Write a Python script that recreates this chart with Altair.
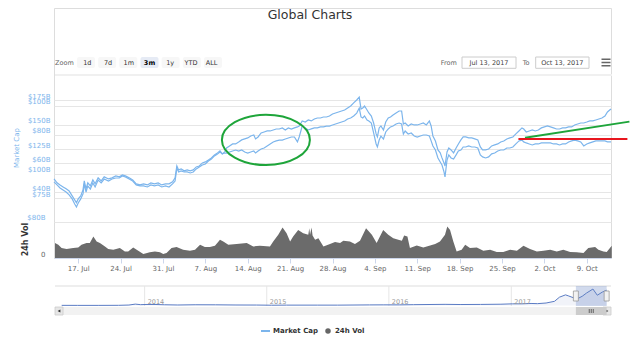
import altair as alt
import pandas as pd

# ---------------- data ----------------
LINE_T = [
    "2017-07-13T00:00", "2017-07-13T12:00", "2017-07-14T00:00", "2017-07-14T12:00", "2017-07-15T00:00", "2017-07-15T12:00",
    "2017-07-16T00:00", "2017-07-16T10:00", "2017-07-16T17:00", "2017-07-17T00:00", "2017-07-17T10:00", "2017-07-17T19:00",
    "2017-07-18T00:00", "2017-07-18T07:00", "2017-07-18T14:00", "2017-07-19T00:00", "2017-07-19T10:00", "2017-07-19T19:00",
    "2017-07-20T07:00", "2017-07-20T19:00", "2017-07-21T07:00", "2017-07-22T00:00", "2017-07-22T14:00", "2017-07-23T05:00",
    "2017-07-23T19:00", "2017-07-24T07:00", "2017-07-24T19:00", "2017-07-25T10:00", "2017-07-26T00:00", "2017-07-26T14:00",
    "2017-07-27T05:00", "2017-07-27T19:00", "2017-07-28T10:00", "2017-07-29T00:00", "2017-07-29T14:00", "2017-07-30T05:00",
    "2017-07-30T19:00", "2017-07-31T10:00", "2017-08-01T00:00", "2017-08-01T14:00", "2017-08-02T00:00", "2017-08-02T07:00",
    "2017-08-02T14:00", "2017-08-03T00:00", "2017-08-03T12:00", "2017-08-04T00:00", "2017-08-04T12:00", "2017-08-05T00:00",
    "2017-08-05T12:00", "2017-08-06T00:00", "2017-08-06T12:00", "2017-08-07T00:00", "2017-08-07T12:00", "2017-08-08T00:00",
    "2017-08-08T12:00", "2017-08-09T00:00", "2017-08-09T10:00", "2017-08-09T19:00", "2017-08-10T05:00", "2017-08-10T12:00",
    "2017-08-11T00:00", "2017-08-11T12:00", "2017-08-12T00:00", "2017-08-12T12:00", "2017-08-13T00:00", "2017-08-13T12:00",
    "2017-08-14T00:00", "2017-08-14T12:00", "2017-08-15T00:00", "2017-08-15T07:00", "2017-08-15T17:00", "2017-08-16T05:00",
    "2017-08-16T17:00", "2017-08-17T05:00", "2017-08-17T17:00", "2017-08-18T05:00", "2017-08-18T17:00", "2017-08-19T05:00",
    "2017-08-19T17:00", "2017-08-20T05:00", "2017-08-20T17:00", "2017-08-21T05:00", "2017-08-21T17:00", "2017-08-22T05:00",
    "2017-08-22T12:00", "2017-08-23T00:00", "2017-08-23T12:00", "2017-08-24T00:00", "2017-08-24T12:00", "2017-08-25T00:00",
    "2017-08-25T12:00", "2017-08-26T00:00", "2017-08-26T12:00", "2017-08-27T00:00", "2017-08-27T12:00", "2017-08-28T00:00",
    "2017-08-28T12:00", "2017-08-29T00:00", "2017-08-29T12:00", "2017-08-30T00:00", "2017-08-30T12:00", "2017-08-31T00:00",
    "2017-08-31T12:00", "2017-09-01T00:00", "2017-09-01T10:00", "2017-09-01T17:00", "2017-09-02T00:00", "2017-09-02T07:00",
    "2017-09-02T17:00", "2017-09-03T00:00", "2017-09-03T10:00", "2017-09-03T19:00", "2017-09-04T05:00", "2017-09-04T10:00",
    "2017-09-04T17:00", "2017-09-05T00:00", "2017-09-05T10:00", "2017-09-05T19:00", "2017-09-06T05:00", "2017-09-06T14:00",
    "2017-09-07T00:00", "2017-09-07T12:00", "2017-09-08T00:00", "2017-09-08T10:00", "2017-09-08T17:00", "2017-09-09T00:00",
    "2017-09-09T12:00", "2017-09-10T00:00", "2017-09-10T12:00", "2017-09-11T00:00", "2017-09-11T12:00", "2017-09-12T00:00",
    "2017-09-12T12:00", "2017-09-13T00:00", "2017-09-13T07:00", "2017-09-13T14:00", "2017-09-14T00:00", "2017-09-14T10:00",
    "2017-09-14T19:00", "2017-09-15T02:00", "2017-09-15T10:00", "2017-09-15T14:00", "2017-09-15T22:00", "2017-09-16T05:00",
    "2017-09-16T14:00", "2017-09-17T00:00", "2017-09-17T10:00", "2017-09-17T19:00", "2017-09-18T05:00", "2017-09-18T14:00",
    "2017-09-19T00:00", "2017-09-19T12:00", "2017-09-20T00:00", "2017-09-20T12:00", "2017-09-21T00:00", "2017-09-21T10:00",
    "2017-09-21T19:00", "2017-09-22T07:00", "2017-09-22T19:00", "2017-09-23T07:00", "2017-09-23T19:00", "2017-09-24T07:00",
    "2017-09-24T19:00", "2017-09-25T07:00", "2017-09-25T19:00", "2017-09-26T07:00", "2017-09-26T19:00", "2017-09-27T07:00",
    "2017-09-27T19:00", "2017-09-28T07:00", "2017-09-28T14:00", "2017-09-29T00:00", "2017-09-29T12:00", "2017-09-30T00:00",
    "2017-09-30T12:00", "2017-10-01T00:00", "2017-10-01T12:00", "2017-10-02T00:00", "2017-10-02T12:00", "2017-10-03T00:00",
    "2017-10-03T12:00", "2017-10-04T00:00", "2017-10-04T12:00", "2017-10-05T00:00", "2017-10-05T12:00", "2017-10-06T00:00",
    "2017-10-06T12:00", "2017-10-07T00:00", "2017-10-07T12:00", "2017-10-08T00:00", "2017-10-08T12:00", "2017-10-09T00:00",
    "2017-10-09T12:00", "2017-10-10T00:00", "2017-10-10T12:00", "2017-10-11T00:00", "2017-10-11T12:00", "2017-10-12T00:00",
    "2017-10-12T10:00", "2017-10-12T19:00", "2017-10-13T00:00",
]
# total market cap, $B (left axis A)
MCAP_TOTAL = [
    94.7, 90.7, 88.6, 86.6, 84.6, 82.5,
    77.5, 73.4, 70.4, 74.4, 77.5, 83.6,
    92.7, 84.6, 90.7, 87.6, 93.7, 89.7,
    95.8, 92.7, 96.8, 94.7, 95.8, 97.8,
    96.8, 98.8, 97.8, 95.8, 93.7, 89.7,
    88.6, 89.7, 88.6, 90.7, 89.7, 90.7,
    88.6, 89.7, 89.7, 91.7, 95.8, 107.9,
    103.9, 104.9, 102.9, 103.9, 102.9, 103.9,
    106.9, 107.9, 111.0, 112.0, 114.0, 116.1,
    119.1, 121.2, 123.2, 120.1, 122.2, 126.2,
    128.3, 130.3, 130.3, 132.3, 134.4, 135.4,
    136.4, 138.4, 139.4, 135.4, 137.4, 141.5,
    142.5, 143.5, 143.5, 144.5, 145.5, 145.5,
    146.6, 144.5, 146.6, 145.5, 146.6, 147.6,
    148.6, 153.7, 152.6, 154.7, 153.7, 155.7,
    156.7, 156.7, 157.7, 157.7, 158.7, 160.8,
    161.8, 162.8, 163.8, 164.8, 166.9, 168.9,
    172.0, 175.0, 178.0, 165.9, 166.9, 168.9,
    164.8, 161.8, 158.7, 151.6, 140.5, 137.4,
    146.6, 148.6, 144.5, 152.6, 156.7, 157.7,
    159.8, 161.8, 163.8, 163.8, 150.6, 151.6,
    148.6, 150.6, 149.6, 149.6, 150.6, 151.6,
    149.6, 153.7, 148.6, 138.4, 133.3, 124.2,
    121.2, 116.1, 111.0, 107.9, 122.2, 126.2,
    124.2, 121.2, 126.2, 130.3, 134.4, 137.4,
    137.4, 136.4, 136.4, 135.4, 134.4, 127.2,
    124.2, 124.2, 125.2, 128.3, 129.3, 130.3,
    132.3, 133.3, 135.4, 136.4, 137.4, 140.5,
    143.5, 146.6, 145.5, 142.5, 143.5, 144.5,
    143.5, 144.5, 146.6, 147.6, 148.6, 147.6,
    146.6, 145.5, 145.5, 146.6, 146.6, 147.6,
    147.6, 149.6, 150.6, 151.6, 151.6, 152.6,
    153.7, 153.7, 154.7, 155.7, 156.7, 158.7,
    162.8, 164.8, 165.9,
]
# second market-cap series, $B (left axis B)
MCAP_ALT = [
    47.2, 45.1, 43.0, 41.6, 40.2, 38.2,
    35.4, 31.9, 29.8, 32.6, 35.4, 38.9,
    45.8, 40.2, 44.4, 42.3, 46.5, 43.7,
    48.5, 46.5, 49.2, 47.8, 49.2, 49.9,
    49.9, 51.3, 50.6, 49.2, 47.8, 45.1,
    44.4, 44.4, 43.7, 45.1, 44.4, 45.1,
    43.7, 44.4, 43.7, 45.8, 47.8, 56.9,
    54.1, 54.8, 54.1, 54.1, 53.4, 54.1,
    56.2, 57.5, 58.9, 59.6, 61.7, 63.1,
    65.2, 66.6, 67.9, 66.6, 67.2, 67.2,
    67.9, 68.6, 69.3, 68.6, 69.3, 67.9,
    67.2, 67.9, 68.6, 67.2, 68.6, 70.0,
    70.7, 72.1, 73.5, 74.9, 75.6, 76.2,
    76.2, 76.9, 77.6, 78.3, 78.3, 74.9,
    78.3, 85.9, 84.6, 83.2, 83.9, 84.6,
    84.6, 85.3, 85.3, 85.9, 85.9, 86.6,
    87.3, 88.0, 88.7, 89.4, 90.8, 91.5,
    92.9, 94.9, 98.4, 92.2, 91.5, 92.9,
    90.1, 89.4, 88.0, 81.1, 73.5, 71.4,
    76.2, 79.0, 76.9, 81.8, 83.9, 85.3,
    85.9, 87.3, 88.0, 87.3, 80.4, 82.5,
    80.4, 81.1, 79.0, 78.3, 79.0, 79.7,
    79.7, 79.0, 75.6, 72.1, 69.3, 63.8,
    61.0, 58.9, 54.1, 50.6, 62.4, 65.9,
    63.8, 63.1, 65.9, 68.6, 69.3, 71.4,
    71.4, 72.1, 71.4, 71.4, 70.7, 65.9,
    64.5, 63.8, 64.5, 66.6, 67.2, 68.6,
    69.3, 69.3, 70.7, 70.7, 71.4, 73.5,
    75.6, 76.2, 74.9, 74.2, 73.5, 72.8,
    73.5, 73.5, 74.2, 74.2, 74.2, 74.2,
    73.5, 73.5, 72.8, 73.5, 73.5, 74.9,
    75.6, 76.2, 75.6, 74.9, 72.1, 73.5,
    74.2, 74.9, 75.6, 75.6, 75.6, 75.6,
    74.9, 74.9, 74.9,
]

VOL_T = [
    "2017-07-13T04:00", "2017-07-13T17:00", "2017-07-14T06:00", "2017-07-15T02:00", "2017-07-16T04:00",
    "2017-07-17T00:00", "2017-07-17T13:00", "2017-07-18T09:00", "2017-07-18T22:00", "2017-07-19T12:00",
    "2017-07-20T01:00", "2017-07-20T14:00", "2017-07-21T10:00", "2017-07-21T23:00", "2017-07-22T19:00",
    "2017-07-23T21:00", "2017-07-24T17:00", "2017-07-25T06:00", "2017-07-26T02:00", "2017-07-26T22:00",
    "2017-07-27T18:00", "2017-07-28T20:00", "2017-07-29T16:00", "2017-07-30T12:00", "2017-07-31T01:00",
    "2017-07-31T14:00", "2017-08-01T10:00", "2017-08-02T06:00", "2017-08-03T08:00", "2017-08-04T11:00",
    "2017-08-05T07:00", "2017-08-06T03:00", "2017-08-06T22:00", "2017-08-07T18:00", "2017-08-08T14:00",
    "2017-08-09T10:00", "2017-08-09T23:00", "2017-08-10T19:00", "2017-08-12T04:00", "2017-08-13T20:00",
    "2017-08-14T22:00", "2017-08-16T00:00", "2017-08-17T16:00", "2017-08-18T05:00", "2017-08-19T01:00",
    "2017-08-19T18:00", "2017-08-20T10:00", "2017-08-21T00:00", "2017-08-21T12:00", "2017-08-22T08:00",
    "2017-08-23T04:00", "2017-08-24T00:00", "2017-08-24T04:00", "2017-08-24T07:00", "2017-08-24T13:00",
    "2017-08-24T17:00", "2017-08-25T03:00", "2017-08-25T16:00", "2017-08-26T12:00", "2017-08-27T14:00",
    "2017-08-28T10:00", "2017-08-29T06:00", "2017-08-29T19:00", "2017-08-30T21:00", "2017-08-31T17:00",
    "2017-09-01T13:00", "2017-09-02T13:00", "2017-09-03T12:00", "2017-09-04T07:00", "2017-09-04T20:00",
    "2017-09-05T09:00", "2017-09-06T05:00", "2017-09-07T01:00", "2017-09-07T21:00", "2017-09-08T11:00",
    "2017-09-08T20:00", "2017-09-09T09:00", "2017-09-09T19:00", "2017-09-10T22:00", "2017-09-12T00:00",
    "2017-09-13T03:00", "2017-09-13T23:00", "2017-09-14T18:00", "2017-09-15T14:00", "2017-09-15T23:00",
    "2017-09-16T10:00", "2017-09-16T23:00", "2017-09-17T12:00", "2017-09-18T08:00", "2017-09-18T22:00",
    "2017-09-19T17:00", "2017-09-20T20:00", "2017-09-21T22:00", "2017-09-23T01:00", "2017-09-24T03:00",
    "2017-09-25T05:00", "2017-09-26T08:00", "2017-09-27T11:00", "2017-09-28T13:00", "2017-09-29T15:00",
    "2017-09-30T18:00", "2017-10-01T20:00", "2017-10-02T23:00", "2017-10-04T01:00", "2017-10-05T03:00",
    "2017-10-06T06:00", "2017-10-07T08:00", "2017-10-08T11:00", "2017-10-09T06:00", "2017-10-10T09:00",
    "2017-10-10T22:00", "2017-10-11T18:00", "2017-10-12T07:00", "2017-10-13T03:00",
]
VOL_B = [
    32.8, 29.1, 21.9, 19.7, 21.9,
    23.3, 29.1, 32.8, 32.8, 47.4,
    36.4, 32.8, 25.5, 19.7, 18.2,
    21.9, 14.6, 14.6, 23.3, 16.0,
    8.7, 12.4, 14.6, 12.4, 8.7,
    10.9, 21.9, 24.0, 18.2, 16.0,
    18.2, 29.1, 24.0, 24.0, 27.0,
    40.1, 36.4, 29.1, 30.6, 32.8,
    25.5, 27.0, 25.5, 36.4, 51.0,
    67.0, 54.6, 36.4, 47.4, 61.9,
    54.6, 51.0, 65.6, 51.0, 67.0,
    49.5, 40.1, 43.7, 25.5, 30.6,
    35.0, 32.8, 37.9, 36.4, 30.6,
    37.9, 65.6, 51.0, 32.8, 47.4,
    61.9, 51.0, 43.7, 40.1, 37.9,
    49.5, 47.4, 21.9, 27.7, 23.3,
    27.7, 30.6, 36.4, 51.0, 69.2,
    61.9, 36.4, 14.6, 18.2, 29.1,
    21.9, 23.3, 16.0, 18.2, 13.1,
    13.1, 18.2, 16.0, 27.0, 19.7,
    14.6, 16.0, 18.2, 14.6, 18.2,
    13.1, 12.4, 10.9, 21.9, 24.0,
    18.2, 14.6, 13.1, 27.0,
]

NAV_T = [
    "2013-04-28", "2013-06-15", "2013-08-15", "2013-10-15", "2013-11-15", "2013-12-04", "2013-12-20",
    "2014-01-05", "2014-02-01", "2014-03-01", "2014-04-10", "2014-06-01", "2014-08-01", "2014-10-01", "2014-12-01",
    "2015-01-15", "2015-03-01", "2015-06-01", "2015-08-01", "2015-11-04", "2015-12-15",
    "2016-02-01", "2016-03-15", "2016-06-17", "2016-08-01", "2016-10-01", "2016-12-01",
    "2017-01-04", "2017-02-01", "2017-03-01", "2017-03-20", "2017-04-15", "2017-05-10", "2017-05-25",
    "2017-06-12", "2017-06-20", "2017-07-16", "2017-08-01", "2017-08-14", "2017-09-02", "2017-09-15",
    "2017-09-30", "2017-10-13",
]
NAV_B = [
    1.6, 1.2, 1.3, 2.0, 5, 15, 9,
    11, 11, 8, 5.5, 8, 7.5, 5.5, 5,
    3, 4.2, 4.1, 4, 6.5, 7,
    6.8, 9, 12.5, 10.5, 11.5, 14,
    18, 18, 22, 20, 27, 45, 90,
    115, 105, 70, 100, 135, 178, 111,
    145, 165,
]

AXIS_A_TICKS = [75, 100, 125, 150, 175]
AXIS_B_TICKS = [40, 60, 80, 100]
VOL_TICKS = [0, 80]
WEEK_TICKS = [(7, 17), (7, 24), (7, 31), (8, 7), (8, 14), (8, 21), (8, 28),
              (9, 4), (9, 11), (9, 18), (9, 25), (10, 2), (10, 9)]
YEARS = [2014, 2015, 2016, 2017]
ZOOM_BUTTONS = ["1d", "7d", "1m", "3m", "1y", "YTD", "ALL"]
SELECTED_BUTTON = "3m"
RANGE_START = "2017-07-13T00:00"
RANGE_END = "2017-10-13T00:00"
RANGE_FROM = "Jul 13, 2017"
RANGE_TO = "Oct 13, 2017"
LEGEND = ["Market Cap", "24h Vol"]
TITLE = "Global Charts"

# hand-drawn annotations, in data coordinates (date, axis-A $B)
ELLIPSE_T, ELLIPSE_V = "2017-08-17T00:00", 134.4
GREEN_T, GREEN_V = ["2017-09-28T19:00", "2017-10-16T01:00"], [136.7, 153.0]
RED_T, RED_V = ["2017-09-27T17:00", "2017-10-15T17:00"], [135.4, 135.4]

# ---------------- layout ----------------
FONT = "DejaVu Sans"
BLUE = "#7cb5ec"
GREEN = "#1ea53a"
RED = "#e8161e"
OX, OY = 54, 8          # page position of the plot origin


def px(x):
    return x - OX


def py(y):
    return y - OY


W, H = 557, 250
ONE = pd.DataFrame({"k": [0]})

# ---------------- scales & axes ----------------
x_main = alt.Scale(domain=[alt.DateTime(year=2017, month=7, date=13),
                           alt.DateTime(year=2017, month=10, date=13)])
y_a = alt.Scale(domain=[75, 175], range=[py(198.3), py(100)], nice=False, zero=False)
y_b = alt.Scale(domain=[40, 100], range=[py(192.3), py(105.7)], nice=False, zero=False)
y_v = alt.Scale(domain=[0, 80], range=[H, py(221.7)], nice=False)
x_nav = alt.Scale(domain=[alt.DateTime(year=2013, month=4, date=8),
                          alt.DateTime(year=2017, month=10, date=26)],
                  range=[px(55), px(611)])
y_nav = alt.Scale(domain=[0, 200], range=[py(305.5), py(287)], nice=False)

x_axis = alt.Axis(values=[alt.DateTime(year=2017, month=m, date=d) for m, d in WEEK_TICKS],
                  format="%-d. %b", title=None, labelFontSize=7, labelColor="#666666",
                  domainColor="#ccd6eb", tickColor="#ccd6eb", tickSize=5, labelPadding=1,
                  grid=False, labelFlush=False, labelOverlap=False)


def left_axis(values, expr, pad, color, title=None, **kw):
    return alt.Axis(orient="left", values=values, labelExpr=expr, grid=True, gridColor="#e6e6e6",
                    domain=False, ticks=False, labelPadding=pad, labelColor=color, labelFontSize=7,
                    labelOffset=-4, labelOverlap=False, labelFlush=False, title=title, **kw)


ax_a = left_axis(AXIS_A_TICKS, "'$' + datum.value + 'B'", 4, BLUE, "Market Cap",
                 titleColor=BLUE, titleFontSize=7, titleFontWeight="normal",
                 titleX=px(16.7), titleY=py(147.5), titleAngle=270,
                 titleAlign="center", titleBaseline="middle")
ax_b = left_axis(AXIS_B_TICKS, "'$' + datum.value + 'B'", 4, BLUE)
ax_v = left_axis(VOL_TICKS, "datum.value == 0 ? '0' : '$' + datum.value + 'B'", 9,
                 {"condition": {"test": "datum.value == 0", "value": "#666666"}, "value": BLUE},
                 "24h Vol", titleColor="#333333", titleFontSize=8, titleFontWeight="bold",
                 titleX=px(25), titleY=py(239), titleAngle=270,
                 titleAlign="center", titleBaseline="middle")

# ---------------- main series ----------------
lines_df = pd.DataFrame({"t": LINE_T, "total": MCAP_TOTAL, "alt": MCAP_ALT})
vol_df = pd.DataFrame({"t": VOL_T, "v": VOL_B})

vol = alt.Chart(vol_df).mark_area(color="#6b6b6b", opacity=1).encode(
    x=alt.X("t:T", scale=x_main, axis=x_axis),
    y=alt.Y("v:Q", scale=y_v, axis=ax_v))
line_total = alt.Chart(lines_df).mark_line(color=BLUE, strokeWidth=1.2).encode(
    x=alt.X("t:T", scale=x_main, axis=None),
    y=alt.Y("total:Q", scale=y_a, axis=ax_a))
line_alt = alt.Chart(lines_df).mark_line(color=BLUE, strokeWidth=1.2).encode(
    x=alt.X("t:T", scale=x_main, axis=None),
    y=alt.Y("alt:Q", scale=y_b, axis=ax_b))

# ---------------- annotations ----------------
ell_df = pd.DataFrame({"t": [ELLIPSE_T], "v": [ELLIPSE_V]})
ellipse = alt.Chart(ell_df).mark_point(
    shape="M -1 0 A 1 0.57 0 1 1 1 0 A 1 0.57 0 1 1 -1 0 Z",
    size=88 * 88, filled=False, color=GREEN, strokeWidth=2, opacity=1).encode(
    x=alt.X("t:T", scale=x_main, axis=None), y=alt.Y("v:Q", scale=y_a, axis=None))
green_line = alt.Chart(pd.DataFrame({"t": GREEN_T, "v": GREEN_V})).mark_line(
    color=GREEN, strokeWidth=2).encode(
    x=alt.X("t:T", scale=x_main, axis=None), y=alt.Y("v:Q", scale=y_a, axis=None))
red_line = alt.Chart(pd.DataFrame({"t": RED_T, "v": RED_V})).mark_line(
    color=RED, strokeWidth=2).encode(
    x=alt.X("t:T", scale=x_main, axis=None), y=alt.Y("v:Q", scale=y_a, axis=None))

# ---------------- navigator ----------------
nav_df = pd.DataFrame({"t": NAV_T, "v": NAV_B})
years_df = pd.DataFrame({"t": [f"{y}-01-01T00:00" for y in YEARS], "label": [str(y) for y in YEARS]})
sel_df = pd.DataFrame({"start": [RANGE_START], "end": [RANGE_END]})
edges_df = pd.DataFrame({"t": [RANGE_START, RANGE_END]})
mid_df = pd.DataFrame({"t": [(pd.Timestamp(RANGE_START) + (pd.Timestamp(RANGE_END) - pd.Timestamp(RANGE_START)) / 2).strftime("%Y-%m-%dT%H:%M")]})

nav_top = alt.Chart(ONE).mark_rule(color="#dddddd", strokeWidth=1).encode(
    x=alt.value(px(55)), x2=alt.value(px(611)), y=alt.value(py(286)))
nav_grid = alt.Chart(years_df).mark_rule(color="#e6e6e6", strokeWidth=1).encode(
    x=alt.X("t:T", scale=x_nav, axis=None), y=alt.value(py(286)), y2=alt.value(py(306)))
nav_labels = alt.Chart(years_df).mark_text(align="left", baseline="alphabetic", dx=3,
                                           fontSize=6.5, color="#999999").encode(
    x=alt.X("t:T", scale=x_nav, axis=None), y=alt.value(py(304)), text="label:N")
nav_fill = alt.Chart(nav_df).mark_area(color="#335cad", opacity=0.07).encode(
    x=alt.X("t:T", scale=x_nav, axis=None), y=alt.Y("v:Q", scale=y_nav, axis=None))
nav_line = alt.Chart(nav_df).mark_line(color="#5b7cc4", strokeWidth=1).encode(
    x=alt.X("t:T", scale=x_nav, axis=None), y=alt.Y("v:Q", scale=y_nav, axis=None))
nav_mask = alt.Chart(sel_df).mark_rect(color="#6685c2", opacity=0.3).encode(
    x=alt.X("start:T", scale=x_nav, axis=None), x2="end:T",
    y=alt.value(py(286)), y2=alt.value(py(306)))
nav_handles = alt.Chart(edges_df).mark_rect(fill="#f2f2f2", stroke="#999999", strokeWidth=0.8,
                                            xOffset=-2.5, x2Offset=2.5).encode(
    x=alt.X("t:T", scale=x_nav, axis=None), x2="t:T",
    y=alt.value(py(291)), y2=alt.value(py(301)))

# scrollbar
track = alt.Chart(ONE).mark_rect(color="#f2f2f2").encode(
    x=alt.value(px(55)), x2=alt.value(px(611)), y=alt.value(py(307)), y2=alt.value(py(315)))
btn_l = alt.Chart(ONE).mark_rect(fill="#e6e6e6", stroke="#cccccc", strokeWidth=0.8).encode(
    x=alt.value(px(55)), x2=alt.value(px(63)), y=alt.value(py(307)), y2=alt.value(py(315)))
btn_r = alt.Chart(ONE).mark_rect(fill="#e6e6e6", stroke="#cccccc", strokeWidth=0.8).encode(
    x=alt.value(px(603)), x2=alt.value(px(611)), y=alt.value(py(307)), y2=alt.value(py(315)))
arr_l = alt.Chart(ONE).mark_point(shape="triangle-left", filled=True, size=10, color="#333333",
                                  opacity=1).encode(x=alt.value(px(59)), y=alt.value(py(311)))
arr_r = alt.Chart(ONE).mark_point(shape="triangle-right", filled=True, size=10, color="#333333",
                                  opacity=1).encode(x=alt.value(px(607)), y=alt.value(py(311)))
thumb = alt.Chart(sel_df).mark_rect(color="#cccccc").encode(
    x=alt.X("start:T", scale=x_nav, axis=None), x2="end:T",
    y=alt.value(py(307)), y2=alt.value(py(315)))
grip = alt.Chart(mid_df).mark_point(shape="M -1 -1 L -1 1 M 0 -1 L 0 1 M 1 -1 L 1 1",
                                    filled=False, color="#333333", strokeWidth=0.7, size=16,
                                    opacity=1).encode(
    x=alt.X("t:T", scale=x_nav, axis=None), y=alt.value(py(311)))

# ---------------- legend ----------------
leg_line = alt.Chart(ONE).mark_rule(color=BLUE, strokeWidth=2).encode(
    x=alt.value(px(261)), x2=alt.value(px(270)), y=alt.value(py(331)))
leg_t1 = alt.Chart(ONE).mark_text(text=LEGEND[0], align="left", baseline="middle", fontSize=7,
                                  fontWeight="bold", color="#333333").encode(
    x=alt.value(px(273)), y=alt.value(py(331)))
leg_dot = alt.Chart(ONE).mark_point(shape="circle", filled=True, size=30, color="#666666",
                                    opacity=1).encode(x=alt.value(px(328)), y=alt.value(py(331)))
leg_t2 = alt.Chart(ONE).mark_text(text=LEGEND[1], align="left", baseline="middle", fontSize=7,
                                  fontWeight="bold", color="#333333").encode(
    x=alt.value(px(335)), y=alt.value(py(331)))

# ---------------- header ----------------
title = alt.Chart(ONE).mark_text(text=TITLE, align="center", baseline="middle", fontSize=12.5,
                                 color="#333333").encode(x=alt.value(px(310)), y=alt.value(py(15)))
zoom_lbl = alt.Chart(ONE).mark_text(text="Zoom", align="left", baseline="middle", fontSize=6.5,
                                    color="#666666").encode(x=alt.value(px(55)), y=alt.value(py(62.7)))
btn_df = pd.DataFrame({"label": ZOOM_BUTTONS})
btn_scale = alt.Scale(domain=ZOOM_BUTTONS, range=[px(77), px(222)], paddingInner=0.15, paddingOuter=0)
btn_rect = alt.Chart(btn_df).mark_rect(cornerRadius=2).encode(
    x=alt.X("label:N", scale=btn_scale, axis=None),
    y=alt.value(py(57)), y2=alt.value(py(68)),
    color=alt.condition(alt.datum.label == SELECTED_BUTTON, alt.value("#e6ebf5"), alt.value("#f7f7f7")))
btn_txt = alt.Chart(btn_df).transform_filter(alt.datum.label != SELECTED_BUTTON).mark_text(
    baseline="middle", fontSize=6.5, color="#333333").encode(
    x=alt.X("label:N", scale=btn_scale, axis=None), y=alt.value(py(62.7)), text="label:N")
btn_txt_sel = alt.Chart(btn_df).transform_filter(alt.datum.label == SELECTED_BUTTON).mark_text(
    baseline="middle", fontSize=6.5, fontWeight="bold", color="#000000").encode(
    x=alt.X("label:N", scale=btn_scale, axis=None), y=alt.value(py(62.7)), text="label:N")

from_lbl = alt.Chart(ONE).mark_text(text="From", align="left", baseline="middle", fontSize=6.5,
                                    color="#666666").encode(x=alt.value(px(440.7)), y=alt.value(py(62.7)))
from_box = alt.Chart(ONE).mark_rect(fill="white", stroke="#cccccc", strokeWidth=1).encode(
    x=alt.value(px(462)), x2=alt.value(px(516)), y=alt.value(py(57)), y2=alt.value(py(68.3)))
from_txt = alt.Chart(ONE).mark_text(text=RANGE_FROM, align="center", baseline="middle", fontSize=6.5,
                                    color="#444444").encode(x=alt.value(px(489)), y=alt.value(py(62.7)))
to_lbl = alt.Chart(ONE).mark_text(text="To", align="left", baseline="middle", fontSize=6.5,
                                  color="#666666").encode(x=alt.value(px(522.7)), y=alt.value(py(62.7)))
to_box = alt.Chart(ONE).mark_rect(fill="white", stroke="#cccccc", strokeWidth=1).encode(
    x=alt.value(px(535.7)), x2=alt.value(px(589)), y=alt.value(py(57)), y2=alt.value(py(68.3)))
to_txt = alt.Chart(ONE).mark_text(text=RANGE_TO, align="center", baseline="middle", fontSize=6.5,
                                  color="#444444").encode(x=alt.value(px(562.3)), y=alt.value(py(62.7)))
menu = alt.Chart(ONE).mark_point(shape="M -1 -0.7 L 1 -0.7 M -1 0 L 1 0 M -1 0.7 L 1 0.7",
                                 filled=False, color="#666666", strokeWidth=1.5, size=81,
                                 opacity=1).encode(x=alt.value(px(606)), y=alt.value(py(62.5)))
separator = alt.Chart(ONE).mark_rule(color="#f0f0f0", strokeWidth=2).encode(
    x=alt.value(px(55)), x2=alt.value(px(612)), y=alt.value(py(75)))

layers = [
    title, zoom_lbl, btn_rect, btn_txt, btn_txt_sel, from_lbl, from_box, from_txt,
    to_lbl, to_box, to_txt, menu, separator,
    vol, line_total, line_alt, ellipse, green_line, red_line,
    nav_top, nav_grid, nav_fill, nav_line, nav_labels, nav_mask, nav_handles,
    track, btn_l, btn_r, arr_l, arr_r, thumb, grip,
    leg_line, leg_t1, leg_dot, leg_t2,
]

chart = alt.layer(*layers).resolve_scale(x="independent", y="independent").properties(
    width=W, height=H,
    autosize=alt.AutoSizeParams(type="none"),
    padding={"left": OX - 8, "top": OY - 8, "right": 624 - (OX - 8) - W, "bottom": 342 - H - (OY - 8)},
    background="white",
).configure_view(stroke=None).configure(font=FONT)

chart.save("out.html", embed_options={"renderer": "svg", "actions": False})
